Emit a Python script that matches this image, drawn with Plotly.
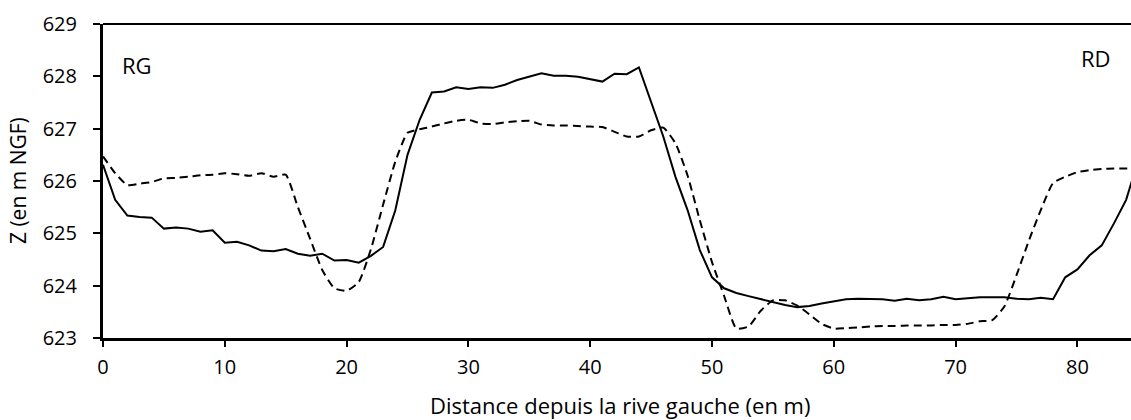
import plotly.graph_objects as go

distance = list(range(0, 86))

z_solid = [626.31, 625.64, 625.34, 625.31, 625.30, 625.09, 625.11, 625.09, 625.03, 625.06,
           624.82, 624.84, 624.77, 624.67, 624.66, 624.70, 624.61, 624.57, 624.61, 624.48,
           624.49, 624.44, 624.57, 624.74, 625.44, 626.50, 627.17, 627.69, 627.71, 627.79,
           627.76, 627.79, 627.78, 627.84, 627.93, 628.00, 628.06, 628.01, 628.01, 627.99,
           627.94, 627.90, 628.05, 628.04, 628.17, 627.53, 626.85, 626.08, 625.44, 624.68,
           624.16, 623.95, 623.86, 623.80, 623.74, 623.68, 623.63, 623.59, 623.61, 623.66,
           623.70, 623.74, 623.75, 623.75, 623.74, 623.71, 623.75, 623.72, 623.74, 623.79,
           623.74, 623.76, 623.78, 623.78, 623.78, 623.75, 623.74, 623.77, 623.74, 624.16,
           624.31, 624.58, 624.77, 625.19, 625.64, 626.40]

z_dashed = [626.47, 626.15, 625.92, 625.95, 625.98, 626.05, 626.06, 626.08, 626.11, 626.12,
            626.15, 626.13, 626.10, 626.15, 626.08, 626.12, 625.50, 624.90, 624.30, 623.95,
            623.90, 624.07, 624.70, 625.55, 626.37, 626.92, 626.99, 627.04, 627.10, 627.15,
            627.17, 627.10, 627.09, 627.12, 627.14, 627.15, 627.08, 627.06, 627.06, 627.05,
            627.04, 627.03, 626.94, 626.85, 626.85, 626.97, 627.02, 626.72, 626.10, 625.25,
            624.45, 623.80, 623.18, 623.22, 623.52, 623.72, 623.72, 623.62, 623.45, 623.27,
            623.18, 623.19, 623.20, 623.22, 623.23, 623.23, 623.24, 623.24, 623.24, 623.25,
            623.25, 623.27, 623.32, 623.34, 623.60, 624.20, 624.85, 625.45, 625.96, 626.08,
            626.17, 626.21, 626.23, 626.24, 626.24, 626.24]

x_ticks = [0, 10, 20, 30, 40, 50, 60, 70, 80]
y_ticks = [623, 624, 625, 626, 627, 628, 629]

FONT = "Open Sans"
TICK_SIZE = 20

fig = go.Figure()
fig.add_trace(go.Scatter(x=distance, y=z_dashed, mode="lines",
                         line=dict(color="black", width=2, dash="8px,5px", shape="spline", smoothing=0.5),
                         showlegend=False))
fig.add_trace(go.Scatter(x=distance, y=z_solid, mode="lines",
                         line=dict(color="black", width=2),
                         showlegend=False))

fig.update_layout(
    width=1131, height=420,
    margin=dict(l=103, r=0, t=24, b=82, autoexpand=False),
    plot_bgcolor="white", paper_bgcolor="white",
    font=dict(family=FONT, color="black", size=TICK_SIZE),
    xaxis=dict(range=[0, 84.4], tickvals=x_ticks, ticks="outside", ticklen=6, tickwidth=2,
               tickcolor="black", showline=True, linewidth=3, linecolor="black",
               showgrid=False, zeroline=False, ticklabelstandoff=3,
               tickfont=dict(size=TICK_SIZE, family=FONT)),
    yaxis=dict(range=[623, 629], tickvals=y_ticks, ticks="outside", ticklen=7, tickwidth=2,
               tickcolor="black", showline=True, linewidth=3, linecolor="black",
               showgrid=False, zeroline=False, ticklabelstandoff=12,
               tickfont=dict(size=TICK_SIZE, family=FONT)),
    shapes=[dict(type="line", xref="paper", yref="paper", x0=0, x1=1, y0=1, y1=1,
                 line=dict(color="black", width=2))],
    annotations=[
        dict(text="Distance depuis la rive gauche (en m)", xref="paper", yref="paper",
             x=0.503, y=-0.212, xanchor="center", yanchor="middle", showarrow=False,
             font=dict(size=22, family=FONT)),
        dict(text="Z (en m NGF)", xref="paper", yref="paper", x=-0.0827, y=0.503,
             xanchor="center", yanchor="middle", textangle=-90, showarrow=False,
             font=dict(size=21, family=FONT)),
        dict(text="RG", xref="paper", yref="paper", x=0.0331, y=0.871,
             xanchor="center", yanchor="middle", showarrow=False, font=dict(size=22, family=FONT)),
        dict(text="RD", xref="paper", yref="paper", x=0.966, y=0.892,
             xanchor="center", yanchor="middle", showarrow=False, font=dict(size=22, family=FONT)),
    ],
)

fig.write_html("out.html", config={"displayModeBar": False},
               post_script="document.body.style.margin='0px';document.body.style.overflow='hidden';")
